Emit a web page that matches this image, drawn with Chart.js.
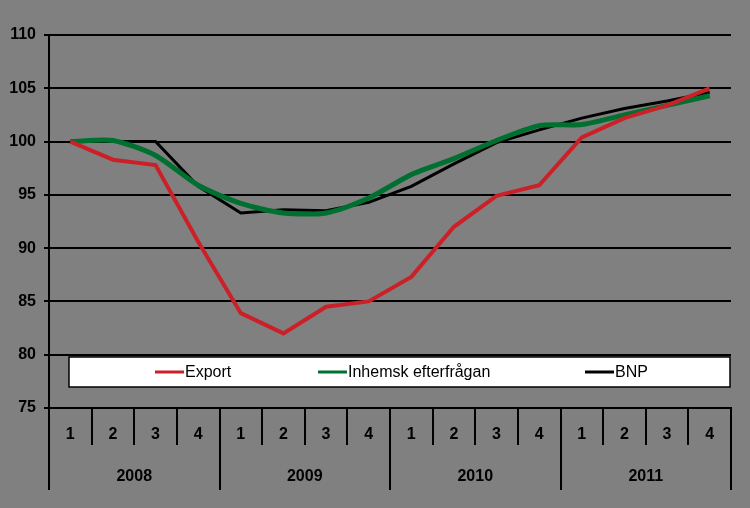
<!DOCTYPE html>
<html lang="sv">
<head>
    <meta charset="UTF-8">
    <title>Export, inhemsk efterfrågan och BNP</title>
    <script src="https://cdn.jsdelivr.net/npm/chart.js"></script>
    <style>
        html, body { margin: 0; padding: 0; background: #808080; }
        #wrap { width: 750px; height: 508px; }
    </style>
</head>
<body>
    <div id="wrap">
        <canvas id="lineChart" width="750" height="508"></canvas>
    </div>

    <script>
        // Kvartal och år
        const quarters = ["1", "2", "3", "4", "1", "2", "3", "4", "1", "2", "3", "4", "1", "2", "3", "4"];
        const years = ["2008", "2009", "2010", "2011"];

        // Index, 2008 kv1 = 100
        const exportValues = [100, 98.3, 97.8, 90.6, 83.9, 82.0, 84.5, 85.0, 87.3, 92.0, 94.9, 95.9, 100.4, 102.2, 103.4, 105.0];
        const inhemskValues = [100, 100.1, 98.7, 95.9, 94.2, 93.3, 93.3, 94.7, 96.9, 98.4, 100.1, 101.5, 101.6, 102.5, 103.4, 104.3];
        const bnpValues = [100, 100, 100, 95.8, 93.3, 93.6, 93.5, 94.3, 95.8, 97.9, 99.9, 101.1, 102.2, 103.1, 103.8, 104.6];

        const red = 'rgb(204, 32, 40)';
        const green = 'rgb(0, 112, 48)';
        const black = 'rgb(0, 0, 0)';

        // Legend i vit ruta inne i diagrammet
        const boxLegend = {
            id: 'boxLegend',
            afterDraw(chart, args, opts) {
                const ctx = chart.ctx;
                ctx.save();
                ctx.fillStyle = '#ffffff';
                ctx.fillRect(opts.left, opts.top, opts.width, opts.height);
                ctx.strokeStyle = '#000000';
                ctx.lineWidth = 1.5;
                ctx.strokeRect(opts.left, opts.top, opts.width, opts.height);
                const cy = opts.top + opts.height / 2;
                ctx.font = '16px "Liberation Sans", Arial, sans-serif';
                ctx.textBaseline = 'middle';
                chart.data.datasets.forEach((ds, i) => {
                    const x = opts.starts[i];
                    ctx.strokeStyle = ds.borderColor;
                    ctx.lineWidth = 3;
                    ctx.beginPath();
                    ctx.moveTo(x, cy);
                    ctx.lineTo(x + 29, cy);
                    ctx.stroke();
                    ctx.fillStyle = '#000000';
                    ctx.fillText(ds.label, x + 30, cy + 1);
                });
                ctx.restore();
            }
        };

        const tickFont = { family: '"Liberation Sans", Arial, sans-serif', size: 16, weight: 'bold' };

        const ctx = document.getElementById("lineChart").getContext("2d");
        new Chart(ctx, {
            type: "line",
            data: {
                labels: quarters,
                datasets: [
                    { label: "Export", data: exportValues, borderColor: red, borderWidth: 4, pointRadius: 0, tension: 0 },
                    { label: "Inhemsk efterfrågan", data: inhemskValues, borderColor: green, borderWidth: 5, pointRadius: 0, tension: 0.25 },
                    { label: "BNP", data: bnpValues, borderColor: black, borderWidth: 3, pointRadius: 0, tension: 0 }
                ]
            },
            plugins: [boxLegend],
            options: {
                responsive: false,
                animation: false,
                devicePixelRatio: 1,
                layout: { padding: { left: 0, top: 35, right: 19, bottom: 18 } },
                plugins: {
                    legend: { display: false },
                    tooltip: { enabled: false },
                    boxLegend: { left: 69, top: 357, width: 661, height: 30, starts: [155, 318, 585] }
                },
                scales: {
                    y: {
                        min: 75,
                        max: 110,
                        ticks: { stepSize: 5, color: '#000', font: tickFont, padding: 8 },
                        grid: { color: '#000', lineWidth: 2, tickLength: 5 },
                        border: { display: true, color: '#000', width: 2 },
                        afterFit: (scale) => { scale.width = 49; }
                    },
                    x: {
                        offset: true,
                        ticks: { color: '#000', font: tickFont, padding: -20, maxRotation: 0, autoSkip: false },
                        grid: { offset: true, drawOnChartArea: false, color: '#000', lineWidth: 2, tickLength: 37 },
                        border: { display: true, color: '#000', width: 2 },
                        afterFit: (scale) => { scale.height = 37; }
                    },
                    x2: {
                        type: 'category',
                        position: 'bottom',
                        labels: years,
                        offset: true,
                        ticks: { color: '#000', font: tickFont, padding: -23, maxRotation: 0 },
                        grid: { offset: true, drawOnChartArea: false, color: '#000', lineWidth: 2, tickLength: 45 },
                        border: { display: false },
                        afterFit: (scale) => { scale.height = 45; }
                    }
                }
            }
        });
    </script>
</body>
</html>
